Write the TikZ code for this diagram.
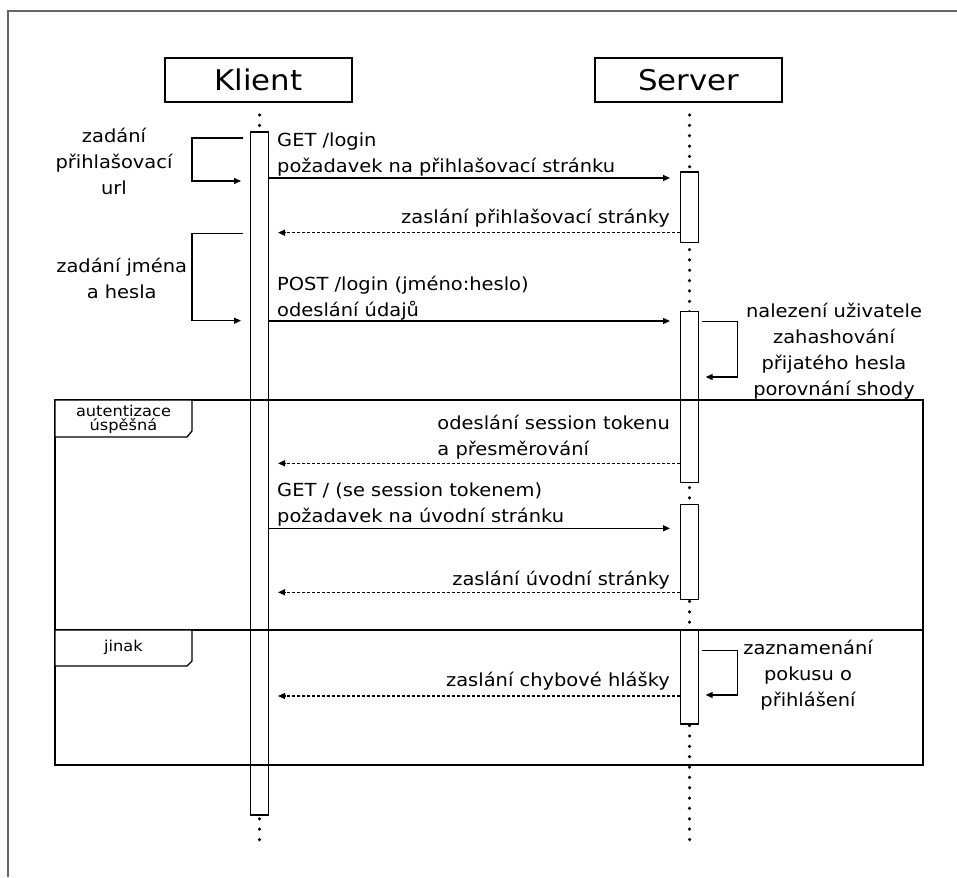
\documentclass[tikz,border=0pt]{standalone}
\usepackage{fontspec}
\setmainfont{DejaVu Sans}[FakeStretch=1.08]
\usetikzlibrary{arrows.meta}
\begin{document}
\begin{tikzpicture}[x=1pt,y=-1pt,
  msg/.style={line width=1.3pt, -{Triangle[length=7pt,width=6pt]}},
  reply/.style={msg, dash pattern=on 3pt off 2pt},
  act/.style={draw, fill=white, line width=1.3pt, minimum width=18pt, inner sep=0pt},
  title/.style={draw, line width=1.3pt, minimum width=187pt, minimum height=44pt,
                inner sep=0pt, font=\fontsize{28.5}{30}\selectfont},
  lbl/.style={inner sep=0pt, font=\fontsize{18}{26}\selectfont},
  tabtxt/.style={inner sep=0pt, align=center, font=\fontsize{15}{14}\selectfont},
  lifeline/.style={line width=3.5pt, line cap=round, dash pattern=on 0pt off 10.35pt},
  fragment/.style={line width=1.3pt}
]
\useasboundingbox (0,0) rectangle (957,877);

% outer page frame
\draw[line width=2pt, black!60] (957,11) -- (8,11) -- (8,877);

% participants
\node[title] (klient) at (258.5,80) {Klient};
\node[title] (server) at (688.5,80) {Server};

% lifelines
\coordinate (kl0) at (259.5,115);
\coordinate (kl1) at (259.5,840);
\coordinate (sl0) at (689.5,115);
\coordinate (sl1) at (689.5,840);
\draw[lifeline] (kl0) -- (kl1);
\draw[lifeline] (sl0) -- (sl1);

% activation bars
\node[act, minimum height=683pt]   (ka)  at (259.5,473.5) {};
\node[act, minimum height=70.5pt]  (sa1) at (689.5,207.2) {};
\node[act, minimum height=170.6pt] (sa2) at (689.5,397) {};
\node[act, minimum height=95pt]    (sa3) at (689.5,552) {};
\node[act, minimum height=94pt]    (sa4) at (689.5,677) {};

% combined fragment "alt"
\draw[fragment] (55,400) rectangle (923,765);
\coordinate (sepL) at (55,630);
\coordinate (sepR) at (923,630);
\draw[fragment] (sepL) -- (sepR);
\draw[fragment, fill=white] (55,400) -- (192,400) -- (192,431) -- (187,437) -- (55,437) -- cycle;
\draw[fragment, fill=white] (55,630) -- (192,630) -- (192,661) -- (187,666) -- (55,666) -- cycle;
\node[tabtxt, anchor=north] (g1) at (123.5,405) {autentizace\\úspěšná};
\node[tabtxt, anchor=base] (g2) at (123.5,651.5) {jinak};

% client self messages
\coordinate (u1a) at (243,138);
\coordinate (u1b) at (241,181);
\draw[msg] (u1a) -- ++(-51,0) |- (u1b);
\node[lbl, align=center, anchor=north] (t1) at (114,127.5) {zadání\\přihlašovací\\url};

\coordinate (u2a) at (243,233.3);
\coordinate (u2b) at (241,320.7);
\draw[msg] (u2a) -- ++(-51,0) |- (u2b);
\node[lbl, align=center, anchor=north] (t2) at (121.7,258) {zadání jména\\a hesla};

% request for login page
\coordinate (m1e) at (670,178);
\draw[msg] (ka.east |- m1e) -- (m1e);
\node[lbl, align=left, anchor=north west] (t3) at (277,132.7) {GET /login\\požadavek na přihlašovací stránku};

\coordinate (m2e) at (278,232.7);
\draw[reply] (sa1.west |- m2e) -- (m2e);
\node[lbl, anchor=base east] (t4) at (670,223) {zaslání přihlašovací stránky};

% credentials
\coordinate (m3e) at (670,321);
\draw[msg] (ka.east |- m3e) -- (m3e);
\node[lbl, align=left, anchor=north west] (t5) at (277,275.7) {POST /login (jméno:heslo)\\odeslání údajů};

% server self message
\coordinate (s1a) at (701.7,321.7);
\coordinate (s1b) at (705.7,377);
\draw[msg] (s1a) -- ++(36,0) |- (s1b);
\node[lbl, align=center, anchor=north] (t6) at (834,303) {nalezení uživatele\\zahashování\\přijatého hesla\\porovnání shody};

% success branch
\coordinate (m5e) at (278,463.3);
\draw[reply] (sa2.west |- m5e) -- (m5e);
\node[lbl, align=left, anchor=north east] (t7) at (670,415) {odeslání session tokenu\\a přesměrování};

\coordinate (m4e) at (670,528.3);
\draw[msg] (ka.east |- m4e) -- (m4e);
\node[lbl, align=left, anchor=north west] (t8) at (277,483) {GET / (se session tokenem)\\požadavek na úvodní stránku};

\coordinate (m6e) at (278,592.3);
\draw[reply] (sa3.west |- m6e) -- (m6e);
\node[lbl, anchor=base east] (t9) at (670,585) {zaslání úvodní stránky};

% failure branch
\coordinate (s2a) at (701.7,650.7);
\coordinate (s2b) at (705.7,695);
\draw[msg] (s2a) -- ++(36,0) |- (s2b);
\node[lbl, align=center, anchor=north] (t10) at (808,640) {zaznamenání\\pokusu o\\přihlášení};

\coordinate (m7e) at (278,696);
\draw[reply] (sa4.west |- m7e) -- (m7e);
\node[lbl, anchor=base east] (t11) at (670,686) {zaslání chybové hlášky};
\end{tikzpicture}
\end{document}
